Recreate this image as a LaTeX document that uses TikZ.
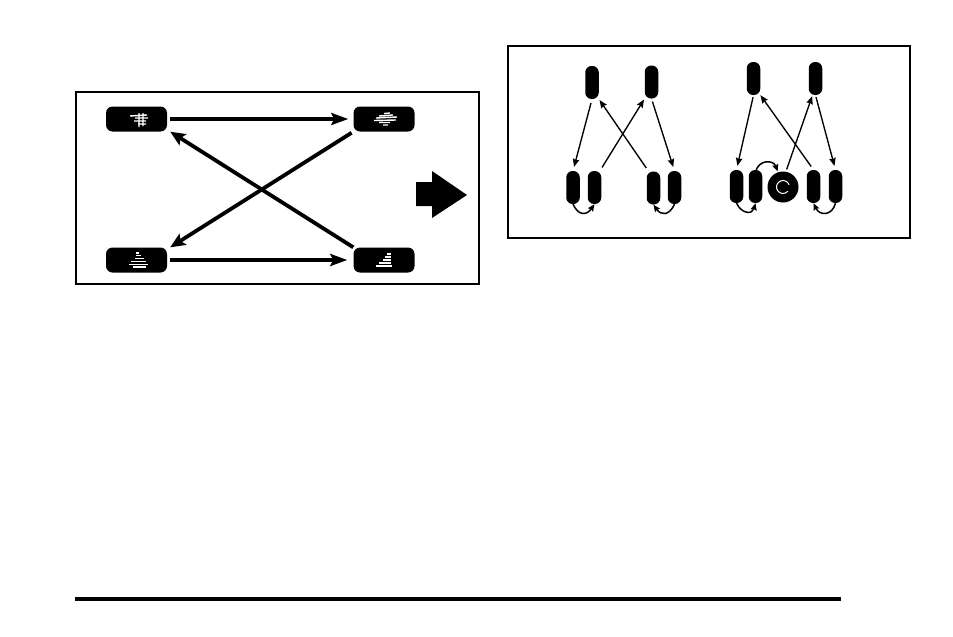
\documentclass[tikz,border=0pt]{standalone}
\usetikzlibrary{arrows.meta}
\tikzset{
  x=1pt,y=-1pt,
  frame/.style={draw=black,line width=2pt,fill=white},
  widetire/.style={fill=black,rounded corners=6.5pt,minimum width=61pt,minimum height=25pt,inner sep=0pt},
  slimtire/.style={fill=black,rounded corners=6.4pt,minimum width=13.5pt,minimum height=33pt,inner sep=0pt},
  sparetire/.style={circle,fill=black,minimum size=31pt,inner sep=0pt},
  bigarrow/.style={line width=3.8pt,-{Stealth[length=15pt,width=13pt,inset=3pt]}},
  midarrow/.style={line width=3.6pt,-{Stealth[length=17pt,width=12pt,inset=3pt]}},
  thinarrow/.style={line width=1.35pt,-{Stealth[length=8pt,width=6.5pt,inset=1pt]}},
  looparrow/.style={line width=1.5pt,-{Stealth[length=7pt,width=6pt,inset=1pt]}},
  tread/.style={draw=white,line width=1.4pt}
}
\begin{document}
\begin{tikzpicture}
\useasboundingbox (0,0) rectangle (953,637);
\fill[white] (0,0) rectangle (953,637);
\draw[frame] (76,91.5) rectangle (479,284);
\draw[frame] (508,45.5) rectangle (910,238);
% left panel
\node[widetire] (tl) at (136.5,119) {};
\node[widetire] (tr) at (384,119) {};
\node[widetire] (bl) at (136.5,260) {};
\node[widetire] (br) at (384,260) {};
\draw[midarrow,shorten <=3pt,shorten >=5pt] (tl) -- (tr);
\draw[midarrow,shorten <=3pt,shorten >=6pt] (bl) -- (br);
\draw[bigarrow] (br.north west) -- ([xshift=3pt]tl.south east);
\draw[bigarrow,shorten <=2pt] (tr.south west) -- ([xshift=3pt]bl.north east);
% treads
\draw[tread] (130,116)--(147,115) (135,118)--(148,118) (134,121)--(146,121) (138,124)--(146,124) (139,113)--(139,127) (143,113)--(143,126);
\draw[tread] (376,118)--(397,117) (374,120.5)--(396,120) (379,116)--(393,115) (384,113.5)--(390,113) (379,122.5)--(390,122.5) (383,125)--(388,125);
\draw[tread] (129,264.5)--(148,264.5) (131,261.5)--(146,261.5) (135,258.5)--(144,258.5) (136,255.5)--(141,255.5) (133,267)--(146,267) (136,253)--(139,253);
\draw[tread] (376,266)--(392,266) (379,263)--(391,263) (383,260)--(391,260) (385,257)--(391,257) (387,254)--(391,254);
% big arrow
\fill[black] (416,182)--(432,182)--(432,171)--(467,195)--(432,218)--(432,206)--(416,206)--cycle;
% right panel, left group
\node[slimtire] (a1) at (592,82.5) {};
\node[slimtire] (a2) at (651.5,82) {};
\node[slimtire] (a3) at (573,187.5) {};
\node[slimtire] (a4) at (594.5,187.5) {};
\node[slimtire] (a5) at (653.5,188) {};
\node[slimtire] (a6) at (674.5,187.5) {};
\draw[thinarrow,shorten <=4pt,shorten >=4pt] (a1.south) -- (a3.north);
\draw[thinarrow,shorten <=4pt,shorten >=1pt] ([xshift=-1.5pt]a4.north east) -- (a2.south west);
\draw[thinarrow,shorten <=4pt,shorten >=1pt] ([xshift=2pt]a5.north west) -- (a1.south east);
\draw[thinarrow,shorten <=3pt,shorten >=4pt] (a2.south) -- (a6.north);
\draw[looparrow] (a3.south) to[out=-65,in=-125,looseness=1.6] (a4.south);
\draw[looparrow] (a6.south) to[out=-115,in=-55,looseness=1.6] (a5.south);
% right panel, right group
\node[slimtire] (c1) at (753.5,78.5) {};
\node[slimtire] (c2) at (815.5,78.5) {};
\node[slimtire] (c3) at (736.5,186.5) {};
\node[slimtire] (c4) at (755.5,186.5) {};
\node[sparetire] (sp) at (783,187) {};
\node[slimtire] (c5) at (813.5,186.5) {};
\node[slimtire] (c6) at (835.5,186.5) {};
\draw[white,line width=1pt] ([shift={(20:6.5pt)}]sp.center) arc[start angle=20,end angle=320,radius=6.5pt];
\draw[thinarrow,shorten <=2pt,shorten >=1pt] ([xshift=3pt]sp.north) -- ([xshift=-3pt]c2.south);
\draw[thinarrow,shorten <=2pt,shorten >=4pt] (c1.south) -- (c3.north);
\draw[thinarrow,shorten <=4pt,shorten >=0pt] (c5.north) -- (c1.south east);
\draw[thinarrow,shorten <=2pt,shorten >=4pt] (c2.south) -- (c6.north);
\draw[looparrow] (c3.south) to[out=-65,in=-105,looseness=1.6] (c4.south);
\draw[looparrow] (c6.south) to[out=-105,in=-65,looseness=1.6] (c5.south);
\draw[looparrow,shorten >=1pt] ([yshift=-2pt]c4.north) to[out=75,in=110,looseness=1.5] ([xshift=-5pt,yshift=-1pt]sp.north);
% rule at the foot
\coordinate (ruleL) at (75,599);
\coordinate (ruleR) at (841,599);
\draw[line width=3.6pt] (ruleL) -- (ruleR);
\end{tikzpicture}
\end{document}
